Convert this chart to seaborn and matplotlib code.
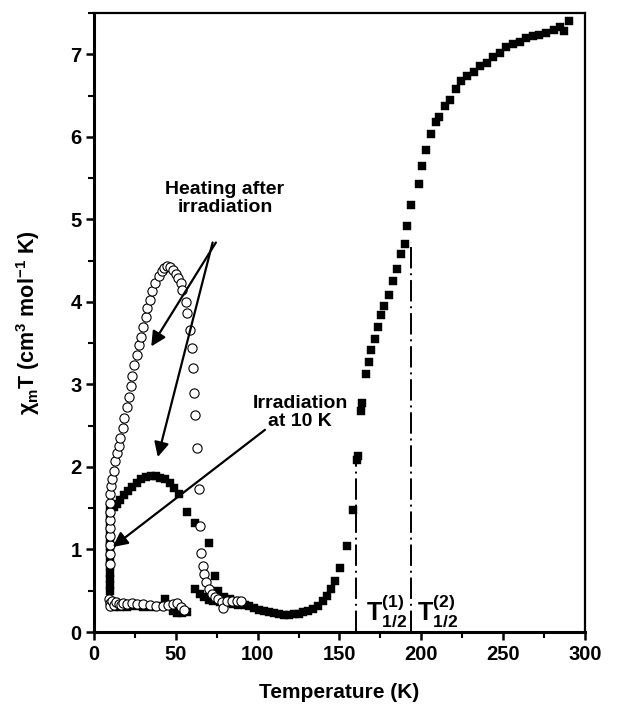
import matplotlib
matplotlib.use("Agg")
import matplotlib.pyplot as plt
from matplotlib.ticker import MultipleLocator
import pandas as pd
import seaborn as sns

# ---------------- data ----------------
# filled squares: irradiation at 10 K (stack)
sq_irr_T = [10, 10, 10, 10, 10, 10, 10, 10, 10, 10, 10, 10, 10]
sq_irr_v = [0.50, 0.57, 0.64, 0.72, 0.80, 0.88, 0.96, 1.04, 1.12, 1.20, 1.30, 1.40, 1.50]
# filled squares: heating after irradiation
sq_heat_T = [12, 14, 16, 18.5, 21, 23.5, 26.5, 29, 32, 35, 38, 40.5, 43.5, 46.5, 49, 52,
             57, 61.5, 70, 74, 76, 79.5, 83, 86.5, 90]
sq_heat_v = [1.52, 1.55, 1.60, 1.66, 1.71, 1.76, 1.81, 1.85, 1.88, 1.89, 1.89, 1.87, 1.85, 1.81, 1.75, 1.67,
             1.46, 1.32, 1.08, 0.68, 0.50, 0.43, 0.40, 0.37, 0.35]
# filled squares: low-temperature baseline and relaxed branch
sq_base_T = [12, 16, 20, 25, 30, 35, 40, 43.5, 45.5, 48, 51, 54, 57, 61.5, 64.5, 67, 70, 73, 77, 81, 85, 88]
sq_base_v = [0.30, 0.30, 0.30, 0.31, 0.30, 0.30, 0.32, 0.40, 0.33, 0.25, 0.23, 0.23, 0.24, 0.52, 0.46, 0.42,
             0.39, 0.37, 0.36, 0.35, 0.34, 0.33]
# filled squares: thermal spin-crossover curve
sq_main_T = [92, 95, 98, 101, 104, 107, 110, 113, 116, 119, 122, 125, 128, 131, 134, 137, 140, 142.5,
             145, 147.5, 150.5, 154.5, 158, 160.5, 161.5, 163, 164, 166, 168, 169, 171.5, 173.5, 175.5,
             177.5, 180, 183, 185, 187.5, 190, 191.5, 194, 198.5, 200.5, 203, 206, 209, 211, 214.5,
             217.5, 221, 224, 228, 232, 236, 240, 244, 248, 252, 256, 260, 264, 268, 272, 276, 281,
             285, 287, 290]
sq_main_v = [0.33, 0.31, 0.29, 0.27, 0.25, 0.24, 0.23, 0.22, 0.21, 0.21, 0.22, 0.22, 0.24, 0.26, 0.28,
             0.32, 0.37, 0.44, 0.52, 0.62, 0.78, 1.04, 1.48, 2.08, 2.13, 2.68, 2.78, 3.13, 3.27, 3.42,
             3.55, 3.70, 3.84, 3.95, 4.08, 4.25, 4.40, 4.58, 4.70, 4.92, 5.17, 5.43, 5.65, 5.84, 6.03,
             6.18, 6.24, 6.37, 6.45, 6.58, 6.68, 6.74, 6.79, 6.86, 6.90, 6.97, 7.02, 7.09, 7.12, 7.15,
             7.20, 7.22, 7.24, 7.26, 7.30, 7.33, 7.28, 7.40]

# open circles: irradiation at 10 K + heating after irradiation
ci_heat_T = [10, 10, 10, 10, 10, 10, 10, 10, 10,
             10.5, 11, 12, 13, 14, 15, 16, 17.5, 18.5, 20, 21.5, 22.5, 23.5, 24.5, 26, 27.5, 28.5,
             30, 31.5, 32.5, 34.5, 35.5, 37.5, 39.5, 41.5, 43, 44.5, 46.5, 48.5, 50, 51.5, 53, 54,
             56, 57, 58.5, 60, 60.5, 61, 61.5, 63, 64, 65, 65.5, 66.5, 67.5, 68.5, 70, 72, 74, 76,
             78, 79, 81.5, 84.5, 87.5, 90]
ci_heat_v = [0.82, 0.94, 1.06, 1.16, 1.26, 1.36, 1.46, 1.56, 1.67,
             1.77, 1.85, 1.95, 2.07, 2.17, 2.25, 2.35, 2.47, 2.59, 2.73, 2.85, 2.98, 3.10, 3.24,
             3.36, 3.48, 3.58, 3.70, 3.82, 3.92, 4.02, 4.13, 4.23, 4.31, 4.37, 4.41, 4.43, 4.42,
             4.39, 4.34, 4.29, 4.23, 4.15, 4.00, 3.86, 3.66, 3.44, 3.20, 2.90, 2.63, 2.23, 1.73,
             1.28, 0.96, 0.80, 0.70, 0.60, 0.52, 0.46, 0.42, 0.40, 0.36, 0.29, 0.375, 0.375, 0.37, 0.37]
# open circles: low-temperature baseline
ci_base_T = [9, 9.5, 10, 11, 12, 13.5, 15, 16.5, 18, 20, 23, 26, 30, 34, 38, 42, 45, 48, 51, 53, 55]
ci_base_v = [0.40, 0.35, 0.32, 0.37, 0.33, 0.36, 0.34, 0.33, 0.35, 0.34, 0.35, 0.34, 0.34, 0.33,
             0.32, 0.32, 0.33, 0.34, 0.35, 0.30, 0.27]

t_half = [160, 194]
t_half_top = [2.08, 4.72]
t_half_labels = [r"$\mathrm{T}_{1/2}^{(1)}$", r"$\mathrm{T}_{1/2}^{(2)}$"]

x_ticks = [0, 50, 100, 150, 200, 250, 300]
y_ticks = [0, 1, 2, 3, 4, 5, 6, 7]

# ---------------- style ----------------
sns.set_theme(style="ticks")
plt.rcParams["font.family"] = ["Liberation Sans", "DejaVu Sans"]
plt.rcParams["font.weight"] = "bold"
plt.rcParams["mathtext.fontset"] = "custom"
plt.rcParams["mathtext.rm"] = "Liberation Sans:bold"
plt.rcParams["mathtext.it"] = "Liberation Sans:bold"
plt.rcParams["mathtext.bf"] = "Liberation Sans:bold"
plt.rcParams["mathtext.sf"] = "Liberation Sans:bold"
for key in ["text.color", "axes.labelcolor", "xtick.color", "ytick.color", "axes.edgecolor"]:
    plt.rcParams[key] = "black"

squares = pd.DataFrame({
    "T": sq_irr_T + sq_heat_T + sq_base_T + sq_main_T,
    "chi": sq_irr_v + sq_heat_v + sq_base_v + sq_main_v,
})
circles = pd.DataFrame({
    "T": ci_base_T + ci_heat_T,
    "chi": ci_base_v + ci_heat_v,
})

fig = plt.figure(figsize=(6.41, 7.09), dpi=100)
ax = fig.add_axes([0.1466, 0.1086, 0.766, 0.873])

sns.scatterplot(data=squares, x="T", y="chi", marker="s", s=34, color="black",
                edgecolor="black", linewidth=0.3, ax=ax, zorder=3)
sns.scatterplot(data=circles, x="T", y="chi", marker="o", s=44, facecolor="white",
                edgecolor="black", linewidth=0.8, ax=ax, zorder=4)

for xv, top in zip(t_half, t_half_top):
    ax.plot([xv, xv], [0, top], color="black", lw=1.4,
            linestyle=(0, (11, 2.5, 1, 2.5)), zorder=2)
ax.text(166, 0.15, t_half_labels[0], fontsize=18, ha="left", va="baseline")
ax.text(197.5, 0.15, t_half_labels[1], fontsize=18, ha="left", va="baseline")

arrow = dict(arrowstyle="-|>", lw=1.6, color="black", mutation_scale=22,
             shrinkA=0, shrinkB=0)
ax.annotate("", xy=(35, 3.46), xytext=(74.5, 4.72), arrowprops=arrow, zorder=6)
ax.annotate("", xy=(39, 2.12), xytext=(72.5, 4.72), arrowprops=arrow, zorder=6)
ax.annotate("", xy=(11.5, 1.03), xytext=(104.5, 2.45), arrowprops=arrow, zorder=6)

ax.text(80, 5.25, "Heating after\nirradiation", fontsize=14, fontweight="bold",
        ha="center", va="center", multialignment="center", linespacing=1.05)
ax.text(126, 2.66, "Irradiation\nat 10 K", fontsize=14, fontweight="bold",
        ha="center", va="center", multialignment="center", linespacing=1.05)

ax.set_xlim(0, 300)
ax.set_ylim(0, 7.5)
ax.set_xticks(x_ticks)
ax.set_yticks(y_ticks)
ax.xaxis.set_minor_locator(MultipleLocator(25))
ax.yaxis.set_minor_locator(MultipleLocator(0.5))
ax.tick_params(which="major", direction="out", length=6, width=1.8, labelsize=14.5,
               top=False, right=False, pad=3, colors="black")
ax.tick_params(which="minor", direction="out", length=4, width=1.5, top=False, right=False,
               colors="black")
for lab in ax.get_xticklabels() + ax.get_yticklabels():
    lab.set_fontweight("bold")

for side in ["left", "bottom"]:
    ax.spines[side].set_linewidth(2.2)
for side in ["top", "right"]:
    ax.spines[side].set_linewidth(1.6)
    ax.spines[side].set_visible(True)

ax.set_xlabel("Temperature (K)", fontsize=15, fontweight="bold", labelpad=14)
ax.set_ylabel(r"$\chi_m$T (cm$^3$ mol$^{-1}$ K)", fontsize=15.5, fontweight="bold", labelpad=20)

fig.savefig("out.png", dpi=100)
